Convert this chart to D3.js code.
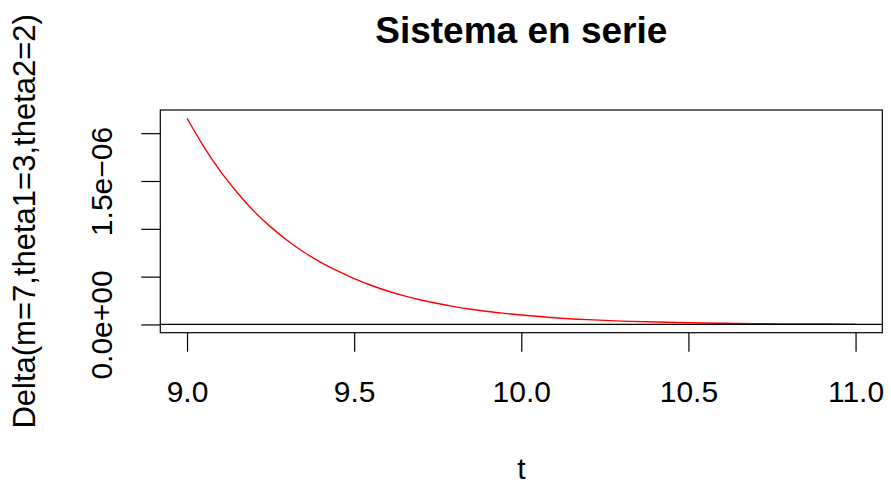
<!DOCTYPE html>
<html>
<head>
<meta charset="utf-8">
<script src="https://cdn.jsdelivr.net/npm/d3@7"></script>
<style>
  html, body { margin: 0; padding: 0; background: #fff; }
  svg { display: block; }
  text { font-family: "Liberation Sans", Arial, Helvetica, sans-serif; fill: #000; }
</style>
</head>
<body>
<svg id="chart" width="891" height="487"></svg>
<script>
// Delta(t) for the series system, m = 7, theta1 = 3, theta2 = 2
const tValues = [9.00, 9.05, 9.10, 9.15, 9.20, 9.25, 9.30, 9.35, 9.40, 9.45,
                 9.50, 9.55, 9.60, 9.65, 9.70, 9.75, 9.80, 9.85, 9.90, 9.95,
                 10.0, 10.1, 10.2, 10.3, 10.4, 10.5, 10.6, 10.7, 10.8, 10.9, 11.0];
const deltaValues = [2.156e-6, 1.860e-6, 1.600e-6, 1.380e-6, 1.185e-6, 1.020e-6, 0.878e-6, 0.755e-6, 0.650e-6, 0.559e-6,
                     0.480e-6, 0.410e-6, 0.350e-6, 0.299e-6, 0.256e-6, 0.219e-6, 0.187e-6, 0.159e-6, 0.135e-6, 0.116e-6,
                     0.099e-6, 0.070e-6, 0.050e-6, 0.035e-6, 0.025e-6, 0.0175e-6, 0.0125e-6, 0.0088e-6, 0.0062e-6, 0.0044e-6, 0.0031e-6];

const xTicks = [9.0, 9.5, 10.0, 10.5, 11.0];
const xTickLabels = ["9.0", "9.5", "10.0", "10.5", "11.0"];
const yTicks = [0, 0.5e-6, 1.0e-6, 1.5e-6, 2.0e-6];
const yTickLabels = ["0.0e+00", "", "", "1.5e\u221206", ""];

const titleText = "Sistema en serie";
const xTitle = "t";
const yTitle = "Delta(m=7,theta1=3,theta2=2)";

const svg = d3.select("#chart");
const plot = { left: 160.3, right: 882.3, top: 110, bottom: 332.7 };
const fontSize = 30;

// 4% padding on both axes, as in a base-graphics plot
function padded(ext) {
  const d = (ext[1] - ext[0]) * 0.04;
  return [ext[0] - d, ext[1] + d];
}
const xExt = d3.extent(tValues);
const yExt = [Math.min(0, d3.min(deltaValues)), d3.max(deltaValues)];

const x = d3.scaleLinear().domain(padded(xExt)).range([plot.left, plot.right]);
const y = d3.scaleLinear().domain(padded(yExt)).range([plot.bottom, plot.top]);

// curve
const line = d3.line()
  .x((d, i) => x(tValues[i]))
  .y(d => y(d))
  .curve(d3.curveMonotoneX);

svg.append("path")
  .datum(deltaValues)
  .attr("d", line)
  .attr("fill", "none")
  .attr("stroke", "#ff0000")
  .attr("stroke-width", 1.4);

// reference line at zero
svg.append("line")
  .attr("x1", plot.left).attr("x2", plot.right)
  .attr("y1", y(0)).attr("y2", y(0))
  .attr("stroke", "#000").attr("stroke-width", 1.2);

// x axis
const xAxis = d3.axisBottom(x)
  .tickValues(xTicks)
  .tickFormat((d, i) => xTickLabels[i])
  .tickSize(19);
const gx = svg.append("g")
  .attr("transform", `translate(0,${plot.bottom})`)
  .call(xAxis);
gx.select(".domain").remove();
gx.selectAll(".tick line").attr("stroke", "#000").attr("stroke-width", 1.2);
gx.selectAll(".tick text")
  .attr("font-size", fontSize)
  .attr("font-family", null)
  .attr("dy", null)
  .attr("y", 402.3 - plot.bottom);

// y axis
const yAxis = d3.axisLeft(y)
  .tickValues(yTicks)
  .tickFormat((d, i) => yTickLabels[i])
  .tickSize(19);
const gy = svg.append("g")
  .attr("transform", `translate(${plot.left},0)`)
  .call(yAxis);
gy.select(".domain").remove();
gy.selectAll(".tick line").attr("stroke", "#000").attr("stroke-width", 1.2);
gy.selectAll(".tick text")
  .attr("font-size", fontSize)
  .attr("font-family", null)
  .attr("x", null)
  .attr("dy", null)
  .attr("text-anchor", "middle")
  .attr("transform", `translate(${112 - plot.left},0) rotate(-90)`);

// box
svg.append("rect")
  .attr("x", plot.left).attr("y", plot.top)
  .attr("width", plot.right - plot.left)
  .attr("height", plot.bottom - plot.top)
  .attr("fill", "none")
  .attr("stroke", "#000")
  .attr("stroke-width", 1.2);

// titles
svg.append("text")
  .attr("x", (plot.left + plot.right) / 2)
  .attr("y", 43.3)
  .attr("text-anchor", "middle")
  .attr("font-size", 37)
  .attr("font-weight", "bold")
  .text(titleText);

svg.append("text")
  .attr("x", (plot.left + plot.right) / 2)
  .attr("y", 479)
  .attr("text-anchor", "middle")
  .attr("font-size", fontSize)
  .text(xTitle);

svg.append("text")
  .attr("transform", `translate(35,${(plot.top + plot.bottom) / 2}) rotate(-90)`)
  .attr("text-anchor", "middle")
  .attr("font-size", 31)
  .text(yTitle);
</script>
</body>
</html>
